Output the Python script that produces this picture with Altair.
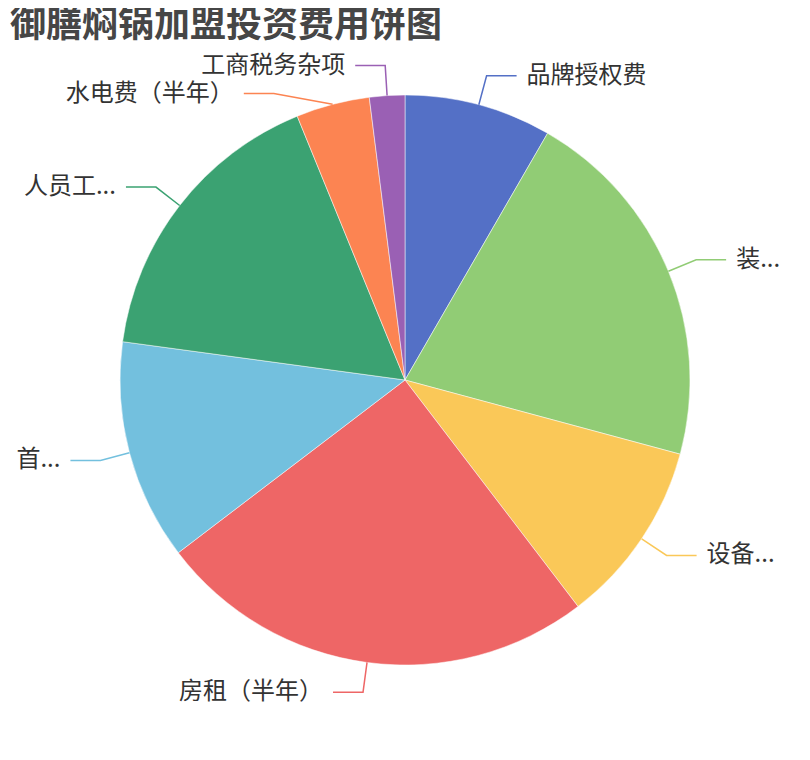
import math
import altair as alt
import pandas as pd

# ---- data ----
names = ["品牌授权费", "装...", "设备...", "房租（半年）", "首...", "人员工...", "水电费（半年）", "工商税务杂项"]
values = [5, 12.5, 6.25, 15, 7.5, 10, 2.5, 1.2]
colors = ["#5470c6", "#91cc75", "#fac858", "#ee6666", "#73c0de", "#3ba272", "#fc8452", "#9a60b4"]
title = "御膳焖锅加盟投资费用饼图"

# ---- layout constants ----
TOP = 12
W, H = 794, 744 - TOP
CX, CY, R = 397, 372 - TOP, 285
L1, L2, GAP, LH = 30, 30, 10, 28
FONT = "Noto Sans CJK SC"

df = pd.DataFrame({"name": names, "value": values, "idx": list(range(len(names)))})

# label layout computed from the values (pie geometry + simple overlap shift)
total = float(sum(values))
items = []
cum = 0.0
for i, (n, v) in enumerate(zip(names, values)):
    mid = (cum + v / 2.0) / total * 2 * math.pi
    cum += v
    s, c = math.sin(mid), math.cos(mid)
    side = 1 if s >= 0 else -1
    items.append({
        "name": n, "idx": i, "side": side,
        "ex": CX + R * s, "ey": CY - R * c,
        "bx": CX + (R + L1) * s, "by": CY - (R + L1) * c,
        "shifted": False,
    })

for side in (1, -1):
    group = sorted([it for it in items if it["side"] == side], key=lambda d: d["by"])
    for k in range(1, len(group)):
        if group[k]["by"] < group[k - 1]["by"] + LH:
            group[k]["by"] = group[k - 1]["by"] + LH
            group[k]["shifted"] = True
for it in items:
    if it["shifted"]:
        dy = it["by"] - CY
        rr = R + L1
        it["bx"] = CX + it["side"] * math.sqrt(max(rr * rr - dy * dy, 0))

line_rows, text_rows = [], []
for it in items:
    endx = it["bx"] + it["side"] * L2
    line_rows += [
        {"name": it["name"], "p": 0, "x": it["ex"], "y": it["ey"]},
        {"name": it["name"], "p": 1, "x": it["bx"], "y": it["by"]},
        {"name": it["name"], "p": 2, "x": endx, "y": it["by"]},
    ]
    text_rows.append({"name": it["name"], "x": endx + it["side"] * GAP, "y": it["by"],
                      "align": "left" if it["side"] > 0 else "right"})
lines = pd.DataFrame(line_rows)
texts = pd.DataFrame(text_rows)

xs = alt.Scale(domain=[0, W], nice=False, zero=False)
ys = alt.Scale(domain=[0, H], nice=False, zero=False, reverse=True)
cs = alt.Scale(domain=names, range=colors)

pie = alt.Chart(df).mark_arc(outerRadius=R, stroke="white", strokeWidth=0.5).encode(
    theta=alt.Theta("value:Q", stack=True),
    order=alt.Order("idx:Q"),
    color=alt.Color("name:N", scale=cs, legend=None),
    x=alt.value(CX),
    y=alt.value(CY),
)

leader = alt.Chart(lines).mark_line(strokeWidth=1.5).encode(
    x=alt.X("x:Q", scale=xs, axis=None),
    y=alt.Y("y:Q", scale=ys, axis=None),
    detail="name:N",
    order="p:Q",
    color=alt.Color("name:N", scale=cs, legend=None),
)

lab_r = alt.Chart(texts[texts["align"] == "left"]).mark_text(
    align="left", baseline="middle", font=FONT, fontSize=24, color="#333333"
).encode(x=alt.X("x:Q", scale=xs, axis=None), y=alt.Y("y:Q", scale=ys, axis=None), text="name:N")

lab_l = alt.Chart(texts[texts["align"] == "right"]).mark_text(
    align="right", baseline="middle", font=FONT, fontSize=24, color="#333333"
).encode(x=alt.X("x:Q", scale=xs, axis=None), y=alt.Y("y:Q", scale=ys, axis=None), text="name:N")

ttl = alt.Chart(pd.DataFrame({"t": [title]})).mark_text(
    align="left", baseline="middle", font=FONT, fontSize=36, fontWeight="bold", color="#464646"
).encode(x=alt.value(2), y=alt.value(18 - TOP), text="t:N")

chart = alt.layer(pie, leader, lab_r, lab_l, ttl).properties(
    width=W, height=H, padding={"top": TOP, "left": 0, "right": 0, "bottom": 0}, autosize="none"
).configure_view(stroke=None)

chart.save("out.html", embed_options={"renderer": "svg", "actions": False})
